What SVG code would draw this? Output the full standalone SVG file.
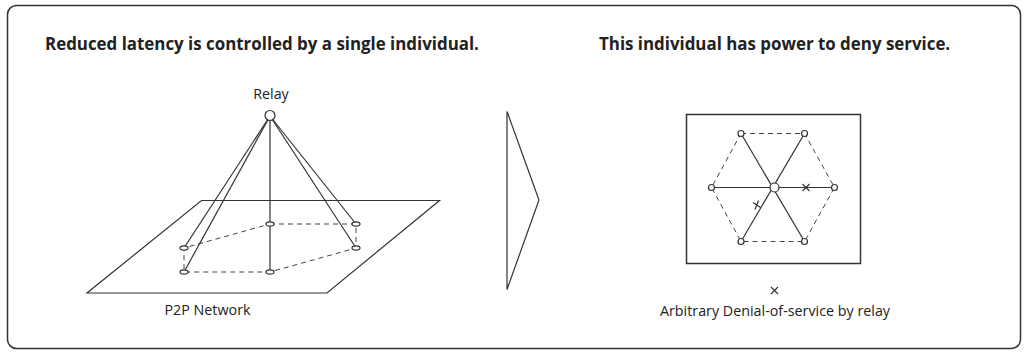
<svg xmlns="http://www.w3.org/2000/svg" width="1028" height="353" viewBox="0 0 1028 353">
<style>
.t{font-family:"Open Sans","Noto Sans",sans-serif;fill:#222}
.h{font-size:16.9px;font-weight:bold}
.l{font-size:14.3px}
.s{fill:none;stroke:#333;stroke-width:1.2}
.d{fill:none;stroke:#444;stroke-width:1;stroke-dasharray:5 4}
.n{fill:#fff;stroke:#333;stroke-width:1.2}
</style>
<rect x="7.5" y="5.5" width="1013" height="343" rx="9" fill="#fff" stroke="#333" stroke-width="1.5"/>
<text class="t h" x="45" y="49.5">Reduced latency is controlled by a single individual.</text>
<text class="t h" x="599" y="49.5">This individual has power to deny service.</text>
<g id="plane"><polygon class="s" points="201.5,200.5 439.5,200.5 327,293 87,293" stroke-width="1.5"/></g>
<g id="connectors">
<polygon class="d" points="270,224 356,224 356,248 270,272 184,272 184,248"/>
<line class="s" x1="270" y1="116" x2="270" y2="272"/>
<line class="s" x1="270" y1="116" x2="184" y2="248"/>
<line class="s" x1="270" y1="116" x2="184" y2="272"/>
<line class="s" x1="270" y1="116" x2="356" y2="224"/>
<line class="s" x1="270" y1="116" x2="356" y2="248"/>
<polygon class="d" points="741,133.5 804.5,133.5 834.5,187.5 804.5,241.5 741,241.5 711.5,187.5"/>
<line class="s" x1="741" y1="133.5" x2="804.5" y2="241.5"/>
<line class="s" x1="804.5" y1="133.5" x2="741" y2="241.5"/>
<line class="s" x1="711.5" y1="187.5" x2="834.5" y2="187.5"/>
</g>
<g id="relay"><circle class="n" cx="270" cy="115.5" r="5" stroke-width="1.5"/><text class="t l" x="271" y="98.5" text-anchor="middle">Relay</text></g>
<g id="peers-left">
<ellipse class="n" cx="270" cy="224" rx="4" ry="2.2"/>
<ellipse class="n" cx="356" cy="224" rx="4" ry="2.2"/>
<ellipse class="n" cx="356" cy="248" rx="4" ry="2.2"/>
<ellipse class="n" cx="270" cy="272" rx="4" ry="2.2"/>
<ellipse class="n" cx="184" cy="272" rx="4" ry="2.2"/>
<ellipse class="n" cx="184" cy="248" rx="4" ry="2.2"/>
</g>
<text class="t l" x="207.5" y="315" text-anchor="middle">P2P Network</text>
<g id="arrow"><polygon class="s" points="507,111.5 539,200 507,289.5"/></g>
<g id="network-right">
<rect x="686.5" y="114.5" width="174" height="149" fill="none" stroke="#333" stroke-width="1.5"/>
<circle class="n" cx="741" cy="133.5" r="3"/>
<circle class="n" cx="804.5" cy="133.5" r="3"/>
<circle class="n" cx="711.5" cy="187.5" r="3"/>
<circle class="n" cx="834.5" cy="187.5" r="3"/>
<circle class="n" cx="741" cy="241.5" r="3"/>
<circle class="n" cx="804.5" cy="241.5" r="3"/>
<circle class="n" cx="774.5" cy="187.5" r="4.5" stroke-width="1.6"/>
<path class="s" d="M802.5,184 L809.5,191 M809.5,184 L802.5,191"/>
<path class="s" d="M753,202.5 L760.5,207.5 M758.5,200.5 L755,209.5"/>
</g>
<g id="legend">
<path class="s" d="M771,287 L778,294 M778,287 L771,294" stroke-width="1.7"/>
<text class="t l" x="775" y="315.5" text-anchor="middle">Arbitrary Denial-of-service by relay</text>
</g>
</svg>
